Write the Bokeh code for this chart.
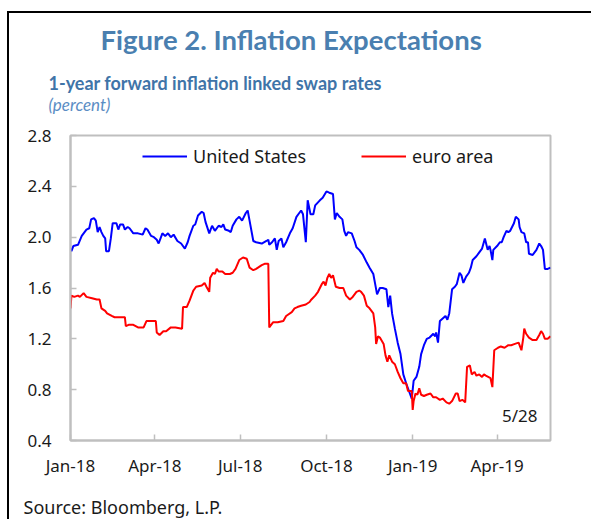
import pandas as pd
from bokeh.plotting import figure
from bokeh.models import (ColumnDataSource, Legend, LegendItem, Label, FixedTicker, Title,
                          DatetimeTickFormatter, Range1d, PrintfTickFormatter)
from bokeh.embed import file_html
from bokeh.resources import INLINE

title_text = "Figure 2. Inflation Expectations"
subtitle_text = "1-year forward inflation linked swap rates"
unit_text = "(percent)"
source_text = "Source:  Bloomberg, L.P."
last_date_text = "5/28"
series_names = ["United States", "euro area"]
y_ticks = [0.4, 0.8, 1.2, 1.6, 2.0, 2.4, 2.8]
x_tick_dates = ["2018-01-01", "2018-04-01", "2018-07-01", "2018-10-01", "2019-01-01", "2019-04-01"]

us_dates = [
    "2018-01-01", "2018-01-02", "2018-01-04", "2018-01-09", "2018-01-13", "2018-01-18", "2018-01-21", "2018-01-23",
    "2018-01-26", "2018-01-28", "2018-01-30", "2018-02-01", "2018-02-03", "2018-02-05", "2018-02-07", "2018-02-08",
    "2018-02-11", "2018-02-13", "2018-02-15", "2018-02-19", "2018-02-21", "2018-02-23", "2018-02-26", "2018-02-28",
    "2018-03-03", "2018-03-05", "2018-03-09", "2018-03-14", "2018-03-19", "2018-03-22", "2018-03-24", "2018-03-28",
    "2018-03-31", "2018-04-03", "2018-04-05", "2018-04-09", "2018-04-12", "2018-04-15", "2018-04-18", "2018-04-21",
    "2018-04-25", "2018-04-29", "2018-05-03", "2018-05-06", "2018-05-08", "2018-05-12", "2018-05-14", "2018-05-17",
    "2018-05-21", "2018-05-23", "2018-05-25", "2018-05-29", "2018-06-01", "2018-06-04", "2018-06-08", "2018-06-11",
    "2018-06-13", "2018-06-15", "2018-06-19", "2018-06-21", "2018-06-23", "2018-06-27", "2018-06-30", "2018-07-03",
    "2018-07-07", "2018-07-09", "2018-07-11", "2018-07-15", "2018-07-18", "2018-07-24", "2018-07-29", "2018-07-31",
    "2018-08-01", "2018-08-04", "2018-08-07", "2018-08-09", "2018-08-11", "2018-08-14", "2018-08-16", "2018-08-19",
    "2018-08-23", "2018-08-26", "2018-08-30", "2018-09-02", "2018-09-04", "2018-09-06", "2018-09-09", "2018-09-11",
    "2018-09-14", "2018-09-17", "2018-09-19", "2018-09-24", "2018-09-27", "2018-10-01", "2018-10-04", "2018-10-08",
    "2018-10-10", "2018-10-12", "2018-10-15", "2018-10-18", "2018-10-20", "2018-10-22", "2018-10-24", "2018-10-28",
    "2018-10-31", "2018-11-02", "2018-11-05", "2018-11-09", "2018-11-13", "2018-11-16", "2018-11-20", "2018-11-22",
    "2018-11-24", "2018-11-27", "2018-11-30", "2018-12-04", "2018-12-06", "2018-12-08", "2018-12-10", "2018-12-13",
    "2018-12-16", "2018-12-19", "2018-12-22", "2018-12-25", "2018-12-29", "2018-12-31", "2019-01-02", "2019-01-05",
    "2019-01-08", "2019-01-10", "2019-01-13", "2019-01-16", "2019-01-19", "2019-01-23", "2019-01-25", "2019-01-26",
    "2019-01-28", "2019-01-30", "2019-02-02", "2019-02-05", "2019-02-07", "2019-02-09", "2019-02-12", "2019-02-15",
    "2019-02-17", "2019-02-20", "2019-02-22", "2019-02-24", "2019-02-27", "2019-03-02", "2019-03-04", "2019-03-06",
    "2019-03-10", "2019-03-13", "2019-03-16", "2019-03-19", "2019-03-20", "2019-03-22", "2019-03-24", "2019-03-25",
    "2019-03-27", "2019-03-28", "2019-04-01", "2019-04-04", "2019-04-06", "2019-04-08", "2019-04-11", "2019-04-13",
    "2019-04-15", "2019-04-17", "2019-04-19", "2019-04-21", "2019-04-24", "2019-04-25", "2019-04-27", "2019-04-30",
    "2019-05-02", "2019-05-04", "2019-05-05", "2019-05-09", "2019-05-13", "2019-05-16", "2019-05-18", "2019-05-20",
    "2019-05-22", "2019-05-25", "2019-05-28",
]
us_values = [
    1.91, 1.89, 1.93, 1.94, 2.01, 2.06, 2.07, 2.14,
    2.15, 2.13, 2.04, 2.08, 2.04, 2.01, 1.99, 1.89,
    1.89, 1.99, 2.11, 2.11, 2.06, 2.10, 2.10, 2.06,
    2.08, 2.07, 2.03, 2.03, 2.02, 2.07, 2.06, 2.01,
    2.00, 1.98, 1.95, 2.03, 2.01, 2.03, 2.00, 2.02,
    1.97, 1.95, 1.91, 1.96, 2.01, 2.09, 2.10, 2.17,
    2.20, 2.19, 2.12, 2.03, 2.09, 2.05, 2.09, 2.08,
    2.10, 2.06, 2.05, 2.04, 2.09, 2.14, 2.16, 2.13,
    2.19, 2.21, 2.13, 1.97, 1.96, 1.95, 1.97, 1.98,
    1.94, 1.96, 1.99, 1.90, 1.97, 1.99, 1.92, 1.96,
    2.03, 2.07, 2.16, 2.19, 2.21, 2.18, 1.96, 2.29,
    2.18, 2.18, 2.25, 2.29, 2.31, 2.36, 2.35, 2.34,
    2.14, 2.19, 2.16, 2.14, 2.05, 2.01, 2.04, 2.03,
    1.97, 1.92, 1.90, 1.86, 1.80, 1.76, 1.71, 1.63,
    1.55, 1.60, 1.60, 1.59, 1.45, 1.54, 1.40, 1.28,
    1.17, 1.08, 0.92, 0.85, 0.77, 0.73, 0.87, 0.90,
    0.98, 1.08, 1.15, 1.20, 1.21, 1.24, 1.22, 1.25,
    1.17, 1.34, 1.36, 1.38, 1.35, 1.40, 1.59, 1.61,
    1.63, 1.72, 1.70, 1.64, 1.69, 1.72, 1.76, 1.82,
    1.85, 1.88, 1.91, 1.99, 1.96, 1.90, 1.93, 1.90,
    1.82, 1.90, 1.93, 1.96, 1.96, 2.00, 2.05, 2.04,
    2.05, 2.08, 2.11, 2.16, 2.14, 2.08, 2.04, 2.03,
    1.96, 1.96, 1.87, 1.86, 1.90, 1.95, 1.93, 1.90,
    1.75, 1.75, 1.76,
]

ea_dates = [
    "2018-01-01", "2018-01-02", "2018-01-05", "2018-01-09", "2018-01-11", "2018-01-15", "2018-01-18", "2018-01-24",
    "2018-01-29", "2018-02-01", "2018-02-03", "2018-02-07", "2018-02-09", "2018-02-14", "2018-02-17", "2018-02-22",
    "2018-02-28", "2018-03-01", "2018-03-04", "2018-03-09", "2018-03-14", "2018-03-20", "2018-03-23", "2018-03-28",
    "2018-04-02", "2018-04-03", "2018-04-06", "2018-04-10", "2018-04-13", "2018-04-18", "2018-04-23", "2018-04-30",
    "2018-05-01", "2018-05-05", "2018-05-08", "2018-05-12", "2018-05-15", "2018-05-21", "2018-05-24", "2018-05-26",
    "2018-05-29", "2018-05-30", "2018-06-02", "2018-06-04", "2018-06-06", "2018-06-08", "2018-06-12", "2018-06-15",
    "2018-06-20", "2018-06-23", "2018-06-26", "2018-06-30", "2018-07-04", "2018-07-08", "2018-07-11", "2018-07-15",
    "2018-07-18", "2018-07-24", "2018-07-27", "2018-07-31", "2018-08-01", "2018-08-05", "2018-08-10", "2018-08-16",
    "2018-08-19", "2018-08-25", "2018-08-28", "2018-08-31", "2018-09-04", "2018-09-09", "2018-09-13", "2018-09-15",
    "2018-09-19", "2018-09-22", "2018-09-26", "2018-09-28", "2018-09-30", "2018-10-02", "2018-10-04", "2018-10-06",
    "2018-10-08", "2018-10-11", "2018-10-15", "2018-10-19", "2018-10-22", "2018-10-26", "2018-10-29", "2018-11-02",
    "2018-11-05", "2018-11-07", "2018-11-10", "2018-11-13", "2018-11-16", "2018-11-20", "2018-11-22", "2018-11-23",
    "2018-11-25", "2018-11-27", "2018-12-01", "2018-12-03", "2018-12-05", "2018-12-07", "2018-12-10", "2018-12-13",
    "2018-12-16", "2018-12-19", "2018-12-22", "2018-12-25", "2018-12-27", "2018-12-31", "2019-01-01", "2019-01-02",
    "2019-01-04", "2019-01-06", "2019-01-08", "2019-01-10", "2019-01-13", "2019-01-16", "2019-01-20", "2019-01-23",
    "2019-01-26", "2019-01-30", "2019-02-02", "2019-02-06", "2019-02-09", "2019-02-12", "2019-02-16", "2019-02-18",
    "2019-02-20", "2019-02-23", "2019-02-26", "2019-02-28", "2019-03-03", "2019-03-05", "2019-03-08", "2019-03-10",
    "2019-03-13", "2019-03-16", "2019-03-18", "2019-03-20", "2019-03-25", "2019-03-27", "2019-03-29", "2019-04-02",
    "2019-04-05", "2019-04-09", "2019-04-13", "2019-04-16", "2019-04-20", "2019-04-24", "2019-04-27", "2019-04-29",
    "2019-04-30", "2019-05-02", "2019-05-05", "2019-05-09", "2019-05-13", "2019-05-16", "2019-05-18", "2019-05-20",
    "2019-05-22", "2019-05-25", "2019-05-28",
]
ea_values = [
    1.44, 1.54, 1.53, 1.54, 1.53, 1.56, 1.53, 1.52,
    1.51, 1.51, 1.44, 1.42, 1.40, 1.38, 1.37, 1.37,
    1.37, 1.30, 1.31, 1.31, 1.29, 1.29, 1.34, 1.34,
    1.34, 1.25, 1.23, 1.26, 1.26, 1.29, 1.29, 1.28,
    1.45, 1.45, 1.50, 1.58, 1.61, 1.62, 1.64, 1.61,
    1.57, 1.68, 1.72, 1.71, 1.75, 1.73, 1.73, 1.71,
    1.71, 1.72, 1.75, 1.82, 1.84, 1.83, 1.76, 1.74,
    1.75, 1.78, 1.79, 1.79, 1.29, 1.33, 1.33, 1.34,
    1.38, 1.41, 1.44, 1.45, 1.46, 1.47, 1.49, 1.51,
    1.54, 1.57, 1.63, 1.65, 1.62, 1.68, 1.71, 1.68,
    1.70, 1.61, 1.60, 1.60, 1.54, 1.51, 1.53, 1.57,
    1.58, 1.57, 1.54, 1.46, 1.44, 1.40, 1.29, 1.16,
    1.22, 1.21, 1.16, 1.07, 1.02, 1.07, 1.02, 1.00,
    0.94, 0.89, 0.85, 0.85, 0.79, 0.79, 0.64, 0.71,
    0.77, 0.76, 0.81, 0.76, 0.75, 0.76, 0.77, 0.74,
    0.74, 0.72, 0.73, 0.70, 0.69, 0.71, 0.77, 0.77,
    0.71, 0.72, 0.70, 0.98, 0.99, 0.92, 0.94, 0.91,
    0.92, 0.90, 0.92, 0.91, 0.89, 0.82, 1.11, 1.13,
    1.14, 1.13, 1.15, 1.15, 1.16, 1.17, 1.11, 1.21,
    1.28, 1.24, 1.21, 1.19, 1.19, 1.23, 1.26, 1.24,
    1.20, 1.20, 1.22,
]

TITLE_BLUE = "#4a7fb0"
SUB_BLUE = "#3f74a8"
UNIT_BLUE = "#5b8dc4"
FONT = "Noto Sans"
TFONT = "Lato"
TEXT = "#1a1a1a"
GRAY = "#bfbfbf"

us_src = ColumnDataSource(dict(x=pd.to_datetime(us_dates), y=us_values))
ea_src = ColumnDataSource(dict(x=pd.to_datetime(ea_dates), y=ea_values))

p = figure(width=591, height=519, x_axis_type="datetime", output_backend="svg",
           toolbar_location=None,
           x_range=Range1d(pd.Timestamp(x_tick_dates[0]), pd.Timestamp(us_dates[-1])),
           y_range=Range1d(y_ticks[0], y_ticks[-1]),
           min_border_left=70, min_border_right=41, min_border_top=135, min_border_bottom=79)
p.styles = {
    "background-color": "#ffffff",
    "background-image": "linear-gradient(#000000, #000000), linear-gradient(#000000, #000000)",
    "background-position": "7px 11px, 7px 11px",
    "background-size": "2px 100%, 100% 2px",
    "background-repeat": "no-repeat, no-repeat",
}
p.border_fill_alpha = 0
p.background_fill_color = "white"
p.grid.visible = False
p.outline_line_color = GRAY
p.outline_line_width = 2

# heading: main title (outermost), subtitle, unit, then a blank spacer next to the frame
p.title.text = title_text
p.title.align = "left"
p.title.offset = 30
p.title.text_font = TFONT
p.title.text_font_size = "27.5px"
p.title.text_font_style = "bold"
p.title.text_color = TITLE_BLUE
p.title.standoff = 34

p.add_layout(Title(text=" ", text_font_size="1px", standoff=18), "above")
p.add_layout(Title(text=unit_text, align="left", offset=-22, text_font=TFONT, text_font_size="17px",
                   text_font_style="italic", text_color=UNIT_BLUE, standoff=0), "above")
p.add_layout(Title(text=subtitle_text, align="left", offset=-22, text_font=TFONT, text_font_size="18px",
                   text_font_style="bold", text_color=SUB_BLUE, standoff=-5), "above")

for ax in (p.xaxis[0], p.yaxis[0]):
    ax.axis_line_color = GRAY
    ax.axis_line_width = 2
    ax.major_tick_line_color = GRAY
    ax.major_tick_line_width = 1.5
    ax.major_tick_in = 6
    ax.major_tick_out = 0
    ax.minor_tick_line_color = None
    ax.major_label_text_font = FONT
    ax.major_label_text_font_size = "17px"
    ax.major_label_text_color = TEXT

p.yaxis[0].ticker = FixedTicker(ticks=y_ticks)
p.yaxis[0].major_label_standoff = 19
p.yaxis[0].formatter = PrintfTickFormatter(format="%.1f")

p.xaxis[0].ticker = FixedTicker(ticks=[pd.Timestamp(d).value / 1e6 for d in x_tick_dates])
p.xaxis[0].formatter = DatetimeTickFormatter(months="%b-%y", days="%b-%y", years="%b-%y")
p.xaxis[0].major_label_standoff = 13

# source line below the x axis, after a blank spacer
p.add_layout(Title(text=" ", text_font_size="1px", standoff=10), "below")
p.add_layout(Title(text=source_text, align="left", offset=-47, text_font=FONT, text_font_size="18px",
                   text_font_style="normal", text_color=TEXT, standoff=0), "below")

r_us = p.line("x", "y", source=us_src, line_color="#0000ff", line_width=2)
r_ea = p.line("x", "y", source=ea_src, line_color="#ff0000", line_width=2)

legend = Legend(items=[LegendItem(label=series_names[0], renderers=[r_us]),
                       LegendItem(label=series_names[1], renderers=[r_ea])],
                orientation="horizontal", location=(72, 272),
                border_line_color=None, background_fill_alpha=0,
                label_text_font=FONT, label_text_font_size="18px", label_text_color=TEXT,
                glyph_width=45, label_standoff=6, spacing=55, margin=0, padding=4)
p.add_layout(legend)

p.add_layout(Label(x=467, y=25, x_units="screen", y_units="screen", text=last_date_text,
                   text_font=FONT, text_font_size="17px", text_color=TEXT,
                   text_align="right", text_baseline="middle"))

open("out.html", "w").write(file_html(p, INLINE))
